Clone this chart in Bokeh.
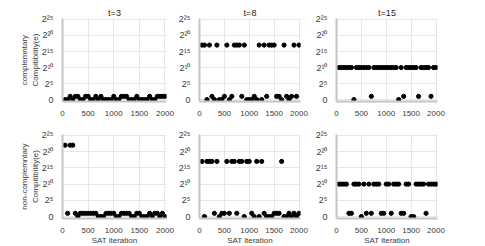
from bokeh.plotting import figure
from bokeh.layouts import column, row
from bokeh.models import Range1d, FixedTicker, Title
from bokeh.embed import file_html
from bokeh.resources import INLINE

# SAT iteration sample points
iters = list(range(50, 2001, 50))

# log2 of compatibility (exponent), complementary row
comp_t3 = [0, 0, 1, 0, 1, 1, 0, 0, 1, 1, 0, 0, 1, 0, 1, 0, 0, 0, 0, 1,
           0, 0, 1, 1, 1, 0, 0, 0, 1, 0, 0, 0, 0, 1, 0, 0, 1, 1, 1, 1]
comp_t8 = [17, 17, 0, 17, 1, 0, 17, 0, 0, 1, 17, 0, 1, 17, 17, 17, 1, 17, 0, 0,
           0, 1, 0, 17, 0, 17, 1, 17, 17, 17, 1, 1, 0, 17, 1, 0, 1, 17, 1, 17]
comp_t15 = [10, 10, 10, 10, 10, 10, 0, 10, 10, 10, 10, 10, 10, 1, 10, 10, 10, 10, 10, 10,
            10, 10, 10, 10, 0, 10, 1, 10, 10, 10, 10, 10, 1, 10, 10, 10, 10, 1, 10, 10]
# non-complementary row
noncomp_t3 = [22, 1, 22, 22, 1, 0, 1, 1, 1, 1, 1, 1, 1, 0, 0, 0, 1, 1, 1, 1,
              0, 0, 1, 1, 1, 1, 0, 0, 1, 1, 0, 0, 0, 1, 0, 1, 1, 0, 1, 0]
noncomp_t8 = [17, 0, 17, 17, 17, 1, 17, 0, 1, 1, 17, 1, 17, 17, 1, 17, 17, 0, 17, 17,
              1, 0, 17, 0, 17, 1, 0, 0, 0, 1, 1, 1, 17, 0, 0, 1, 0, 1, 0, 1]
noncomp_t15 = [10, 10, 10, 10, 1, 1, 10, 10, 10, 0, 10, 1, 10, 1, 10, 10, 10, 1, 1, 10,
               10, 1, 10, 10, 10, 1, 1, 10, 10, 0, 0, 10, 10, 10, 10, 1, 10, 10, 10, 10]

titles = ["t=3", "t=8", "t=15"]
ylabels = ["complemntary\nCompitibility(e)", "non-complemntary\nCompitibility(e)"]
xlabel = "SAT iteration"
x_ticks = [0, 500, 1000, 1500, 2000]
y_ticks = [0, 5, 10, 15, 20, 25]
y_tick_labels = {0: "0", 5: "2\u2075", 10: "2\u00b9\u2070", 15: "2\u00b9\u2075",
                 20: "2\u00b2\u2070", 25: "2\u00b2\u2075"}

FONT = "Liberation Sans"
TXT = "#3a3a3a"

data = [[comp_t3, comp_t8, comp_t15], [noncomp_t3, noncomp_t8, noncomp_t15]]

left_b = [62, 25, 26]
right_b = [8, 10, 10]
frame_w = [104, 101, 101]


def make(r, c):
    top = 18 if r == 0 else 16
    bottom = 17 if r == 0 else 24
    p = figure(output_backend="svg", toolbar_location=None,
               frame_width=frame_w[c], frame_height=83 if r == 0 else 84,
               min_border_left=left_b[c], min_border_right=right_b[c],
               min_border_top=top, min_border_bottom=bottom,
               x_range=Range1d(0, 2030), y_range=Range1d(-0.6, 25.3))
    p.outline_line_color = None
    p.background_fill_color = "white"
    p.border_fill_color = "white"
    p.scatter(iters, data[r][c], size=4.2, color="black")
    p.xaxis.ticker = FixedTicker(ticks=x_ticks)
    p.yaxis.ticker = FixedTicker(ticks=y_ticks)
    p.yaxis.major_label_overrides = y_tick_labels
    for ax in (p.xaxis[0], p.yaxis[0]):
        ax.axis_line_color = "#c4c4c4"
        ax.axis_line_width = 2
        ax.major_tick_line_color = None
        ax.minor_tick_line_color = None
        ax.major_label_text_font = FONT
        ax.major_label_text_font_size = "8px"
        ax.major_label_text_color = TXT
        ax.major_label_standoff = 3
        ax.axis_label_text_font = FONT
        ax.axis_label_text_font_size = "8px"
        ax.axis_label_text_font_style = "normal"
        ax.axis_label_text_color = TXT
    p.xaxis.axis_label_standoff = 0
    p.yaxis.axis_label_standoff = -1
    p.yaxis.major_label_text_font_size = "9px"
    p.xgrid.grid_line_color = "#e6e6e6"
    p.ygrid.grid_line_color = "#e6e6e6"
    if r == 0:
        p.title = Title(text=titles[c], align="center", text_font=FONT,
                        text_font_size="9px", text_font_style="normal",
                        text_color="#222222", standoff=1, offset=0)
    else:
        p.xaxis.axis_label = xlabel
    if c == 0:
        p.yaxis.axis_label = ylabels[r]
    return p


rows = []
for r in range(2):
    rows.append(row(*[make(r, c) for c in range(3)], spacing=0))
layout = column(*rows, spacing=0)

open("out.html", "w").write(file_html(layout, INLINE))
